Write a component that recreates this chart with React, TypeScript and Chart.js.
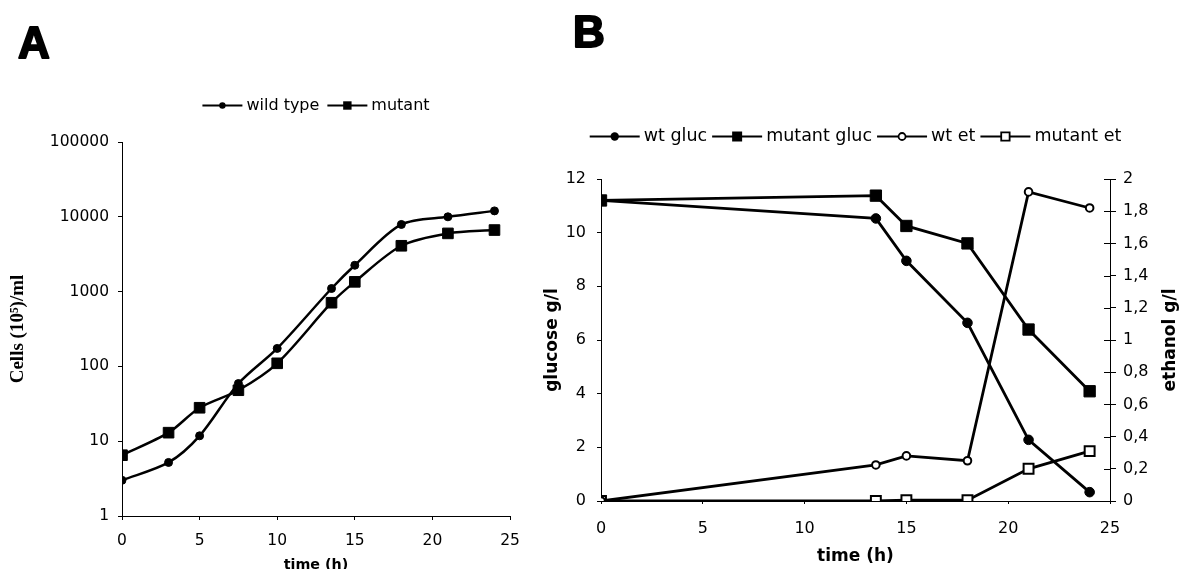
import React, { useEffect, useRef } from 'react';
import { Chart, registerables } from 'chart.js';

Chart.register(...registerables);

const W = 1180;
const H = 569;

// ---------- Panel A data ----------
const timeA = [0, 3, 5, 7.5, 10, 13.5, 15, 18, 21, 24];
const wildType = [3.0, 5.2, 11.8, 59, 174, 1100, 2250, 7900, 10000, 12000];
const mutant = [6.5, 13, 28, 48, 110, 710, 1350, 4100, 6000, 6650];
const cellTicks = [1, 10, 100, 1000, 10000, 100000];
const timeTicks = [0, 5, 10, 15, 20, 25];

// ---------- Panel B data ----------
const timeB = [0, 13.5, 15, 18, 21, 24];
const wtGluc = [11.2, 10.53, 8.95, 6.64, 2.28, 0.33];
const mutantGluc = [11.2, 11.38, 10.25, 9.6, 6.39, 4.09];
const wtEt = [0, 0.224, 0.28, 0.25, 1.92, 1.82];
const mutantEt = [0, 0, 0.005, 0.005, 0.2, 0.31];
const glucoseTicks = [0, 2, 4, 6, 8, 10, 12];
const ethanolTicks = [0, 0.2, 0.4, 0.6, 0.8, 1, 1.2, 1.4, 1.6, 1.8, 2];
const ethanolTickLabels = ['0', '0,2', '0,4', '0,6', '0,8', '1', '1,2', '1,4', '1,6', '1,8', '2'];

const toXY = (xs: number[], ys: number[]) => xs.map((x, i) => ({ x, y: ys[i] }));

type LegendItem = { label: string; style: 'circle' | 'rect'; filled: boolean; size: number };

function drawMarker(ctx: CanvasRenderingContext2D, it: LegendItem, x: number, y: number) {
  ctx.beginPath();
  if (it.style === 'circle') {
    ctx.arc(x, y, it.size, 0, Math.PI * 2);
  } else {
    ctx.rect(x - it.size, y - it.size, it.size * 2, it.size * 2);
  }
  if (it.filled) {
    ctx.fillStyle = '#000';
    ctx.fill();
  } else {
    ctx.fillStyle = '#fff';
    ctx.fill();
    ctx.lineWidth = 1.8;
    ctx.strokeStyle = '#000';
    ctx.stroke();
  }
}

function makeLegendPlugin(id: string, items: LegendItem[], y: number, lineLen: number, font: string, gap: number) {
  return {
    id,
    afterDraw(chart: any) {
      const ctx: CanvasRenderingContext2D = chart.ctx;
      ctx.save();
      ctx.font = font;
      const widths = items.map((it) => ctx.measureText(it.label).width);
      const itemW = widths.map((w) => lineLen + 4 + w);
      const total = itemW.reduce((a, b) => a + b, 0) + gap * (items.length - 1);
      let x = (chart.chartArea.left + chart.chartArea.right) / 2 - total / 2;
      items.forEach((it, i) => {
        ctx.strokeStyle = '#000';
        ctx.lineWidth = 2.2;
        ctx.beginPath();
        ctx.moveTo(x, y);
        ctx.lineTo(x + lineLen, y);
        ctx.stroke();
        drawMarker(ctx, it, x + lineLen / 2, y);
        ctx.fillStyle = '#000';
        ctx.textBaseline = 'middle';
        ctx.textAlign = 'left';
        ctx.fillText(it.label, x + lineLen + 4, y);
        x += itemW[i] + gap;
      });
      ctx.restore();
    },
  };
}

type TextSpec = {
  text: string;
  x: number;
  y: number;
  font: string;
  rot?: number;
  align?: CanvasTextAlign;
  base?: CanvasTextBaseline;
  stroke?: number;
};

function makeTextPlugin(id: string, texts: TextSpec[]) {
  return {
    id,
    afterDraw(chart: any) {
      const ctx: CanvasRenderingContext2D = chart.ctx;
      texts.forEach((t) => {
        ctx.save();
        ctx.font = t.font;
        ctx.fillStyle = '#000';
        ctx.textAlign = t.align || 'left';
        ctx.textBaseline = t.base || 'alphabetic';
        ctx.translate(t.x, t.y);
        if (t.rot) ctx.rotate(t.rot);
        ctx.fillText(t.text, 0, 0);
        if (t.stroke) {
          ctx.strokeStyle = '#000';
          ctx.lineWidth = t.stroke;
          ctx.lineJoin = 'round';
          ctx.strokeText(t.text, 0, 0);
        }
        ctx.restore();
      });
    },
  };
}

const crossTickPlugin = {
  id: 'crossTicks',
  afterDraw(chart: any) {
    const s = chart.scales.y2;
    if (!s) return;
    const ctx: CanvasRenderingContext2D = chart.ctx;
    ctx.save();
    ctx.strokeStyle = '#000';
    ctx.lineWidth = 1;
    s.ticks.forEach((t: any) => {
      const y = Math.round(s.getPixelForValue(t.value)) + 0.5;
      ctx.beginPath();
      ctx.moveTo(s.left - 6, y);
      ctx.lineTo(s.left, y);
      ctx.stroke();
    });
    ctx.restore();
  },
};

const tickFont = (size: number) => ({ family: 'DejaVu Sans', size });

export default function App() {
  const refA = useRef<HTMLCanvasElement>(null);
  const refB = useRef<HTMLCanvasElement>(null);

  useEffect(() => {
    document.body.style.margin = '0';
    const axisCommon = {
      grid: { display: true, drawOnChartArea: false, drawTicks: true, tickLength: 4, color: '#000' },
      border: { display: true, color: '#000', width: 1 },
    };

    const chartA = new Chart(refA.current as HTMLCanvasElement, {
      type: 'line',
      data: {
        datasets: [
          {
            label: 'wild type',
            data: toXY(timeA, wildType),
            borderColor: '#000',
            borderWidth: 2.5,
            pointStyle: 'circle',
            pointRadius: 4,
            pointBackgroundColor: '#000',
            pointBorderColor: '#000',
            pointBorderWidth: 1,
            tension: 0.3,
            fill: false,
          },
          {
            label: 'mutant',
            data: toXY(timeA, mutant),
            borderColor: '#000',
            borderWidth: 2.5,
            pointStyle: 'rect',
            pointRadius: 7.5,
            pointBackgroundColor: '#000',
            pointBorderColor: '#000',
            pointBorderWidth: 1,
            tension: 0.3,
            fill: false,
          },
        ],
      },
      options: {
        responsive: false,
        animation: false,
        events: [],
        layout: { padding: { left: 0, top: 142, right: W - 510, bottom: 0 } },
        plugins: { legend: { display: false }, tooltip: { enabled: false } },
        scales: {
          x: {
            type: 'linear',
            min: 0,
            max: 25,
            afterBuildTicks: (s: any) => {
              s.ticks = timeTicks.map((v) => ({ value: v }));
            },
            afterFit: (s: any) => {
              s.height = H - 516;
            },
            ...axisCommon,
            ticks: { color: '#000', font: tickFont(15.5), padding: 12, maxRotation: 0, autoSkip: false },
            title: {
              display: true,
              text: 'time (h)',
              color: '#000',
              font: { family: 'DejaVu Sans', size: 14.3, weight: 'bold', lineHeight: 1 },
              padding: { top: 0, bottom: -3 },
            },
          },
          y: {
            type: 'logarithmic',
            min: 1,
            max: 100000,
            afterBuildTicks: (s: any) => {
              s.ticks = cellTicks.map((v) => ({ value: v }));
            },
            afterFit: (s: any) => {
              s.width = 122;
            },
            ...axisCommon,
            ticks: {
              color: '#000',
              font: tickFont(15.5),
              padding: 9,
              autoSkip: false,
              callback: (v: any) => String(v),
            },
            title: {
              display: true,
              text: 'Cells (10⁵)/ml',
              color: '#000',
              font: { family: 'Liberation Serif', size: 19, weight: 'bold', lineHeight: 1 },
              padding: { top: 8.5, bottom: 0 },
            },
          },
        },
      } as any,
      plugins: [
        makeLegendPlugin(
          'legendA',
          [
            { label: 'wild type', style: 'circle', filled: true, size: 3.2 },
            { label: 'mutant', style: 'rect', filled: true, size: 4.2 },
          ],
          105.5,
          40,
          '16px "DejaVu Sans"',
          8
        ),
        makeTextPlugin('letterA', [{ text: 'A', x: 18, y: 58, font: 'bold 44px "Liberation Sans"', stroke: 2 }]),
      ],
    });

    const chartB = new Chart(refB.current as HTMLCanvasElement, {
      type: 'line',
      data: {
        datasets: [
          {
            label: 'wt gluc',
            data: toXY(timeB, wtGluc),
            yAxisID: 'y',
            borderColor: '#000',
            borderWidth: 2.8,
            pointStyle: 'circle',
            pointRadius: 4.8,
            pointBackgroundColor: '#000',
            pointBorderColor: '#000',
            pointBorderWidth: 1,
            tension: 0,
            fill: false,
          },
          {
            label: 'mutant gluc',
            data: toXY(timeB, mutantGluc),
            yAxisID: 'y',
            borderColor: '#000',
            borderWidth: 2.8,
            pointStyle: 'rect',
            pointRadius: 8,
            pointBackgroundColor: '#000',
            pointBorderColor: '#000',
            pointBorderWidth: 1,
            tension: 0,
            fill: false,
          },
          {
            label: 'wt et',
            data: toXY(timeB, wtEt),
            yAxisID: 'y2',
            borderColor: '#000',
            borderWidth: 2.8,
            pointStyle: 'circle',
            pointRadius: 3.8,
            pointBackgroundColor: '#fff',
            pointBorderColor: '#000',
            pointBorderWidth: 2,
            tension: 0,
            fill: false,
          },
          {
            label: 'mutant et',
            data: toXY(timeB, mutantEt),
            yAxisID: 'y2',
            borderColor: '#000',
            borderWidth: 2.8,
            pointStyle: 'rect',
            pointRadius: 7,
            pointBackgroundColor: '#fff',
            pointBorderColor: '#000',
            pointBorderWidth: 2,
            tension: 0,
            fill: false,
          },
        ],
      },
      options: {
        responsive: false,
        animation: false,
        events: [],
        layout: { padding: { left: 540, top: 179, right: 0, bottom: 0 } },
        plugins: { legend: { display: false }, tooltip: { enabled: false } },
        scales: {
          x: {
            type: 'linear',
            min: 0,
            max: 25,
            afterBuildTicks: (s: any) => {
              s.ticks = timeTicks.map((v) => ({ value: v }));
            },
            afterFit: (s: any) => {
              s.height = H - 501;
            },
            ...axisCommon,
            grid: { ...axisCommon.grid, tickLength: 3 },
            ticks: { color: '#000', font: tickFont(16), padding: 15, maxRotation: 0, autoSkip: false },
            title: {
              display: true,
              text: 'time (h)',
              color: '#000',
              font: { family: 'DejaVu Sans', size: 17, weight: 'bold', lineHeight: 1 },
              padding: { top: 0, bottom: 3.5 },
            },
          },
          y: {
            type: 'linear',
            position: 'left',
            min: 0,
            max: 12,
            afterBuildTicks: (s: any) => {
              s.ticks = glucoseTicks.map((v) => ({ value: v }));
            },
            afterFit: (s: any) => {
              s.width = 61;
            },
            ...axisCommon,
            ticks: { color: '#000', font: tickFont(16), padding: 11, autoSkip: false },
            title: {
              display: true,
              text: 'glucose g/l',
              color: '#000',
              font: { family: 'DejaVu Sans', size: 17, weight: 'bold', lineHeight: 1 },
              padding: { top: 4, bottom: 0 },
            },
          },
          y2: {
            type: 'linear',
            position: 'right',
            min: 0,
            max: 2,
            afterBuildTicks: (s: any) => {
              s.ticks = ethanolTicks.map((v) => ({ value: v }));
            },
            afterFit: (s: any) => {
              s.width = 70;
            },
            ...axisCommon,
            grid: { ...axisCommon.grid, tickLength: 6 },
            ticks: {
              color: '#000',
              font: tickFont(16),
              padding: 7,
              autoSkip: false,
              callback: (_v: any, i: number) => ethanolTickLabels[i],
            },
            title: { display: false },
          },
        },
      } as any,
      plugins: [
        crossTickPlugin,
        makeLegendPlugin(
          'legendB',
          [
            { label: 'wt gluc', style: 'circle', filled: true, size: 4.2 },
            { label: 'mutant gluc', style: 'rect', filled: true, size: 5 },
            { label: 'wt et', style: 'circle', filled: false, size: 3.5 },
            { label: 'mutant et', style: 'rect', filled: false, size: 4.2 },
          ],
          136.5,
          50,
          '17.5px "DejaVu Sans"',
          5
        ),
        makeTextPlugin('lettersB', [
          { text: 'B', x: 573, y: 47, font: 'bold 44px "Liberation Sans"', stroke: 2 },
          {
            text: 'ethanol g/l',
            x: 1171,
            y: (179 + 501) / 2,
            font: 'bold 17px "DejaVu Sans"',
            rot: -Math.PI / 2,
            align: 'center',
            base: 'middle',
          },
        ]),
      ],
    });

    return () => {
      chartA.destroy();
      chartB.destroy();
    };
  }, []);

  return (
    <div style={{ position: 'absolute', left: 0, top: 0, width: W, height: H, background: '#fff' }}>
      <canvas ref={refA} width={W} height={H} style={{ position: 'absolute', left: 0, top: 0 }} />
      <canvas ref={refB} width={W} height={H} style={{ position: 'absolute', left: 0, top: 0 }} />
    </div>
  );
}
